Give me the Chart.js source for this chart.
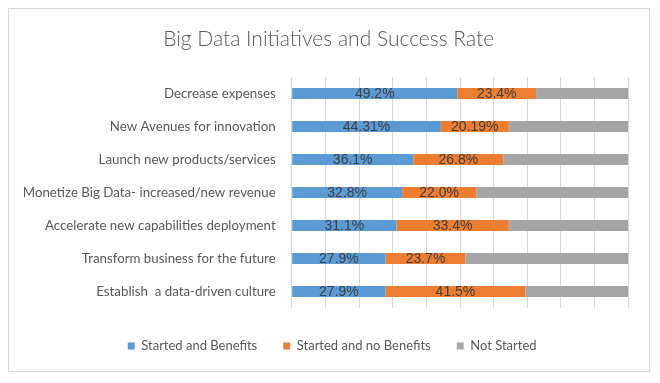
<!DOCTYPE html>
<html>
<head>
<meta charset="utf-8">
<script src="https://cdn.jsdelivr.net/npm/chart.js@4/dist/chart.umd.min.js"></script>
<style>
    body { margin: 0; background: #fff; }
    .moldura {
        position: absolute;
        left: 8px; top: 8px;
        width: 640px; height: 362px;
        border: 1px solid #d9d9d9;
    }
</style>
</head>
<body>
<div class="moldura"><canvas id="grafico" width="640" height="362"></canvas></div>
<script>
// dados
const categorias = [
    'Decrease expenses',
    'New Avenues for innovation',
    'Launch new products/services',
    'Monetize Big Data- increased/new revenue',
    'Accelerate new capabilities deployment',
    'Transform business for the future',
    'Establish  a data-driven culture'
]
const comBeneficios = [49.2, 44.31, 36.1, 32.8, 31.1, 27.9, 27.9]
const semBeneficios = [23.4, 20.19, 26.8, 22.0, 33.4, 23.7, 41.5]
const naoIniciado = [27.4, 35.5, 37.1, 45.2, 35.5, 48.4, 30.6]

const rotulosCom = ['49.2%', '44.31%', '36.1%', '32.8%', '31.1%', '27.9%', '27.9%']
const rotulosSem = ['23.4%', '20.19%', '26.8%', '22.0%', '33.4%', '23.7%', '41.5%']

// escreve o valor no meio de cada barra (só azul e laranja)
const rotulosPlugin = {
    id: 'rotulos',
    afterLayout(chart) {
        // no Excel o título e a legenda ficam centrados na moldura toda
        chart.titleBlock.left += 10
        chart.titleBlock.right += 10
        chart.legend.left += 13.5
        chart.legend.right += 13.5
    },
    afterDatasetsDraw(chart) {
        const ctx = chart.ctx
        const textos = [rotulosCom, rotulosSem]
        ctx.save()
        ctx.font = '14px "Liberation Sans", Arial, sans-serif'
        ctx.fillStyle = '#404040'
        ctx.textAlign = 'center'
        ctx.textBaseline = 'middle'
        textos.forEach((lista, d) => {
            chart.getDatasetMeta(d).data.forEach((barra, i) => {
                ctx.fillText(lista[i], (barra.x + barra.base) / 2, barra.y + 1)
            })
        })
        ctx.restore()
    }
}

const ctx = document.getElementById('grafico').getContext('2d')
new Chart(ctx, {
    type: 'bar',
    data: {
        labels: categorias,
        datasets: [
            { label: 'Started and Benefits', data: comBeneficios, backgroundColor: '#5B9BD5' },
            { label: 'Started and no Benefits', data: semBeneficios, backgroundColor: '#ED7D31' },
            { label: 'Not Started', data: naoIniciado, backgroundColor: '#A5A5A5' }
        ]
    },
    options: {
        responsive: false,
        animation: false,
        indexAxis: 'y',
        categoryPercentage: 1,
        barPercentage: 0.34,
        layout: { padding: { left: 0, right: 20.7, top: 0, bottom: 8.5 } },
        plugins: {
            title: {
                display: true,
                text: 'Big Data Initiatives and Success Rate',
                color: '#595959',
                font: { family: 'Lato', size: 21, weight: '300' },
                padding: { top: 18, bottom: 24.8 }
            },
            legend: {
                position: 'bottom',
                labels: {
                    boxWidth: 7,
                    boxHeight: 7,
                    padding: 26,
                    color: '#595959',
                    font: { family: 'Lato', size: 13 }
                }
            },
            tooltip: { enabled: false }
        },
        scales: {
            x: {
                stacked: true,
                min: 0,
                max: 100,
                ticks: { display: false, stepSize: 10 },
                grid: { color: '#d9d9d9', drawTicks: false },
                border: { display: false },
                afterFit(scale) { scale.height = 5.5 }
            },
            y: {
                stacked: true,
                ticks: { color: '#595959', padding: 8, font: { family: 'Lato', size: 13.3 } },
                grid: { display: false },
                border: { display: false },
                afterFit(scale) { scale.width = 282.7 }
            }
        }
    },
    plugins: [rotulosPlugin]
})
</script>
</body>
</html>
